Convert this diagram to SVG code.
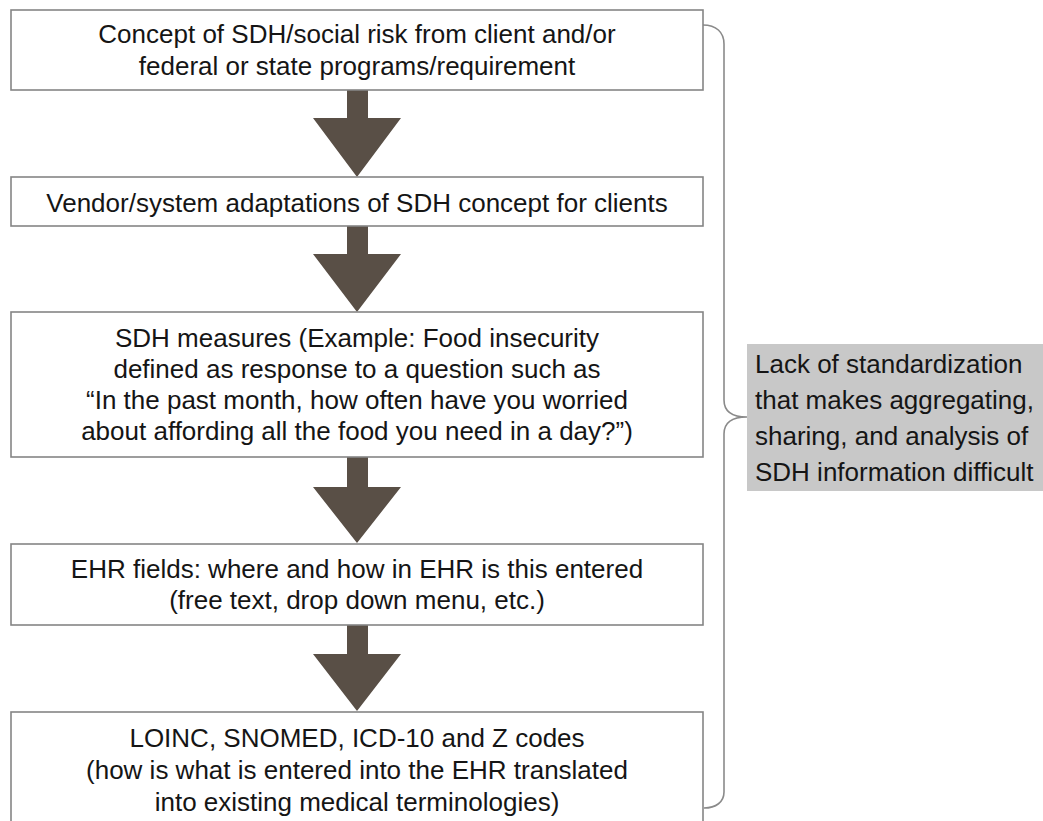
<svg xmlns="http://www.w3.org/2000/svg" width="1043" height="821" viewBox="0 0 1043 821">
<defs>
<style>
.box{fill:#ffffff;stroke:#858585;stroke-width:1.6}
.t{font-family:"Liberation Sans",Arial,sans-serif;font-size:26px;fill:#151515;text-anchor:middle}
.n{font-family:"Liberation Sans",Arial,sans-serif;font-size:26px;fill:#151515}
.arr{fill:#594f46}
.brace{fill:none;stroke:#8a8a8a;stroke-width:1.6}
.note{fill:#c8c8c8}
</style>
</defs>
<rect width="1043" height="821" fill="#ffffff"/>
<g id="connectors">
<polygon class="arr" points="347,90 368,90 368,118 401,118 357,177 313,118 347,118"/>
<polygon class="arr" points="347,226 368,226 368,254 401,254 357,312 313,254 347,254"/>
<polygon class="arr" points="347,457 368,457 368,487 401,487 357,543 313,487 347,487"/>
<polygon class="arr" points="347,625 368,625 368,654 401,654 357,711 313,654 347,654"/>
<path class="brace" d="M703 25 C716 25 724 32 724 44 L724 400 Q724 417 747 417 Q724 417 724 434 L724 792 C724 802 716 808 704 808"/>
</g>
<g id="node1">
<rect class="box" x="11" y="10" width="692" height="80"/>
<text class="t" x="357" y="43">Concept of SDH/social risk from client and/or</text>
<text class="t" x="357" y="75">federal or state programs/requirement</text>
</g>
<g id="node2">
<rect class="box" x="11" y="177" width="692" height="49"/>
<text class="t" x="357" y="212">Vendor/system adaptations of SDH concept for clients</text>
</g>
<g id="node3">
<rect class="box" x="11" y="312" width="692" height="145"/>
<text class="t" x="357" y="347">SDH measures (Example: Food insecurity</text>
<text class="t" x="357" y="378">defined as response to a question such as</text>
<text class="t" x="357" y="409">“In the past month, how often have you worried</text>
<text class="t" x="357" y="440">about affording all the food you need in a day?”)</text>
</g>
<g id="node4">
<rect class="box" x="11" y="544" width="692" height="81"/>
<text class="t" x="357" y="578">EHR fields: where and how in EHR is this entered</text>
<text class="t" x="357" y="609">(free text, drop down menu, etc.)</text>
</g>
<g id="node5">
<rect class="box" x="11" y="712" width="692" height="120"/>
<text class="t" x="357" y="747">LOINC, SNOMED, ICD-10 and Z codes</text>
<text class="t" x="357" y="779">(how is what is entered into the EHR translated</text>
<text class="t" x="357" y="811">into existing medical terminologies)</text>
</g>
<g id="note">
<rect class="note" x="747" y="344" width="300" height="147"/>
<text class="n" x="755" y="373">Lack of standardization</text>
<text class="n" x="755" y="409">that makes aggregating,</text>
<text class="n" x="755" y="445">sharing, and analysis of</text>
<text class="n" x="755" y="481">SDH information difficult</text>
</g>
</svg>
